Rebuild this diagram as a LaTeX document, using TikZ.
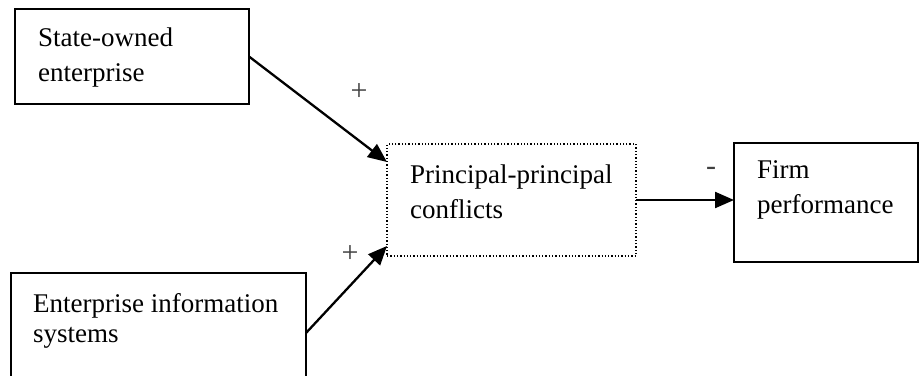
\documentclass[tikz,border=0pt]{standalone}
\usepackage{fontspec}
\setmainfont{Liberation Serif}
\usetikzlibrary{arrows.meta,calc}
\begin{document}
\begin{tikzpicture}[x=1pt,y=-1pt,
  box/.style={draw=black, line width=1.3pt, rectangle, anchor=north west, inner sep=0pt, outer sep=0pt},
  dotbox/.style={box, dotted, line width=1.4pt},
  txt/.style={anchor=base west, inner sep=0pt, align=left, font=\fontsize{27}{35}\selectfont},
  sign/.style={inner sep=0pt, font=\fontsize{30}{35}\selectfont, text=black!75},
  link/.style={line width=2.3pt, -{Triangle[length=19pt,width=16pt]}}]
\useasboundingbox (0,0) rectangle (920,375);
\clip (0,0) rectangle (920,375);
\node[box, minimum width=234pt, minimum height=95pt] (soe) at (15,9) {};
\node[dotbox, minimum width=249pt, minimum height=112pt] (pp) at (387,144) {};
\node[box, minimum width=184pt, minimum height=119pt] (fp) at (734,143) {};
\node[box, minimum width=295pt, minimum height=120pt] (eis) at (11,273) {};
\node[txt] (soet) at (38,81.7) {State-owned\\enterprise};
\node[txt] (ppt) at (410,218) {Principal-principal\\conflicts};
\node[txt] (fpt) at (757,213) {Firm\\performance};
\node[txt, font=\fontsize{27}{30.5}\selectfont] (eist) at (33,342.5) {Enterprise information\\systems};
\coordinate (ppin1) at ($(pp.north west)+(0,18)$);
\coordinate (ppin2) at ($(pp.south west)+(0,-10)$);
\draw[link] (soe.east) -- (ppin1);
\draw[link] (eis.east) -- (ppin2);
\draw[link] (pp.east) -- (pp.east -| fp.west);
\node[sign] (plus1) at (359,92) {+};
\node[sign] (plus2) at (350,254) {+};
\node[sign] (minus) at (711,171) {-};
\end{tikzpicture}
\end{document}
